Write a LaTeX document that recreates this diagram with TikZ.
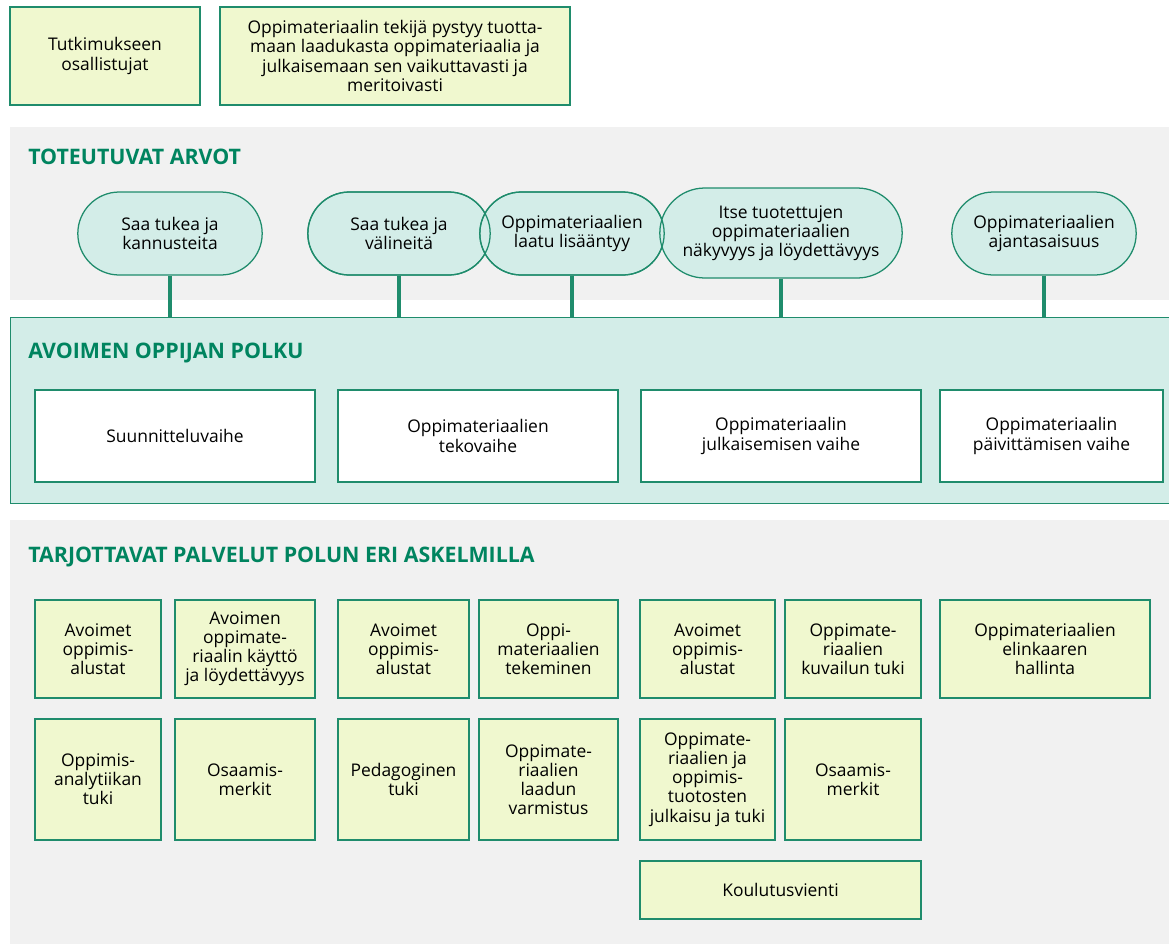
\documentclass[tikz,border=0pt]{standalone}
\usepackage{fontspec}
\setmainfont{Open Sans}
\usetikzlibrary{shapes.misc}

\definecolor{edgegreen}{HTML}{1F8C6C}
\definecolor{titlegreen}{HTML}{00845F}
\definecolor{limefill}{HTML}{F0F8CF}
\definecolor{tealfill}{HTML}{D3EDE8}
\definecolor{panelgray}{HTML}{F1F1F1}

\begin{document}
\begin{tikzpicture}[
  font=\fontsize{12.4}{13.6}\selectfont,
  panel/.style={fill=panelgray, anchor=north west, minimum width=29.1cm,
    inner sep=0pt},
  pathpanel/.style={panel, fill=tealfill, draw=edgegreen, line width=0.9pt},
  header/.style={anchor=west, text=titlegreen, inner sep=0pt,
    font=\fontsize{15.2}{18}\selectfont\bfseries},
  service/.style={draw=edgegreen, line width=0.9pt, fill=limefill,
    align=center, inner sep=2pt},
  phase/.style={service, fill=white, minimum width=7.0cm, minimum height=2.3cm},
  pill/.style={rounded rectangle, draw=edgegreen, line width=0.9pt,
    fill=tealfill, align=center, inner sep=2pt,
    minimum width=4.75cm, minimum height=2.075cm},
  pillline/.style={pill, fill=none},
  stem/.style={draw=edgegreen, line width=2.5pt},
  rowone/.style={service, minimum height=2.45cm},
  rowtwo/.style={service, minimum height=3.025cm}
]
\useasboundingbox (0,0) rectangle (29.225,-23.6);

% Top boxes
\node[service, minimum width=4.75cm, minimum height=2.45cm] (tutk) at (2.625,-1.4)
  {Tutkimukseen\\osallistujat};
\node[service, minimum width=8.75cm, minimum height=2.45cm] (tekija) at (9.875,-1.4)
  {Oppimateriaalin tekijä pystyy tuotta-\\maan laadukasta oppimateriaalia ja\\
   julkaisemaan sen vaikuttavasti ja\\meritoivasti};

% Values
\node[panel, minimum height=4.325cm] (arvot) at (0.25,-3.175) {};
\node[header] (arvothead) at (0.7,-3.925) {TOTEUTUVAT ARVOT};
\node[pill] (kannuste) at (4.25,-5.8375) {Saa tukea ja\\kannusteita};
\node[pill, minimum width=4.7cm] (valine) at (9.975,-5.8375) {Saa tukea ja\\välineitä};
\node[pill] (laatu) at (14.3,-5.8375) {Oppimateriaalien\\laatu lisääntyy};
\node[pill, minimum width=6.2cm, minimum height=2.25cm] (nakyvyys) at (19.525,-5.825)
  {Itse tuotettujen\\oppimateriaalien\\näkyvyys ja löydettävyys};
\node[pill] (ajantasa) at (26.1,-5.8375) {Oppimateriaalien\\ajantasaisuus};
\node[pillline, minimum width=4.7cm] (valineline) at (valine.center) {};
\node[pillline] (laatuline) at (laatu.center) {};

% Path
\node[pathpanel, minimum height=4.65cm] (polku) at (0.25,-7.925) {};
\node[header] (polkuhead) at (0.7,-8.825) {AVOIMEN OPPIJAN POLKU};
\node[phase] (suunnittelu) at (4.375,-10.9) {Suunnitteluvaihe};
\node[phase] (teko) at (11.95,-10.9) {Oppimateriaalien\\tekovaihe};
\node[phase] (julkaisu) at (19.525,-10.9) {Oppimateriaalin\\julkaisemisen vaihe};
\node[phase, minimum width=5.575cm] (paivitys) at (26.2875,-10.9)
  {Oppimateriaalin\\päivittämisen vaihe};

% Stems
\foreach \p in {kannuste,valine,laatu,nakyvyys,ajantasa}
  \draw[stem] (\p.south) -- (\p.south |- polku.north);

% Services
\node[panel, minimum height=10.6cm] (palvelut) at (0.25,-13.0) {};
\node[header] (palveluthead) at (0.7,-13.925)
  {TARJOTTAVAT PALVELUT POLUN ERI ASKELMILLA};

\node[rowone, minimum width=3.15cm] (alusta1) at (2.45,-16.225)
  {Avoimet\\oppimis-\\alustat};
\node[rowone, minimum width=3.5cm] (kaytto) at (6.125,-16.225)
  {Avoimen\\oppimate-\\riaalin käyttö\\ja löydettävyys};
\node[rowone, minimum width=3.275cm] (alusta2) at (10.0875,-16.225)
  {Avoimet\\oppimis-\\alustat};
\node[rowone, minimum width=3.475cm] (tekeminen) at (13.7125,-16.225)
  {Oppi-\\materiaalien\\tekeminen};
\node[rowone, minimum width=3.375cm] (alusta3) at (17.6875,-16.225)
  {Avoimet\\oppimis-\\alustat};
\node[rowone, minimum width=3.4cm] (kuvailu) at (21.325,-16.225)
  {Oppimate-\\riaalien\\kuvailun tuki};
\node[rowone, minimum width=5.25cm] (elinkaari) at (26.125,-16.225)
  {Oppimateriaalien\\elinkaaren\\hallinta};

\node[rowtwo, minimum width=3.15cm] (analytiikka) at (2.45,-19.4875)
  {Oppimis-\\analytiikan\\tuki};
\node[rowtwo, minimum width=3.5cm] (merkit1) at (6.125,-19.4875)
  {Osaamis-\\merkit};
\node[rowtwo, minimum width=3.275cm] (pedagogi) at (10.0875,-19.4875)
  {Pedagoginen\\tuki};
\node[rowtwo, minimum width=3.475cm] (varmistus) at (13.7125,-19.4875)
  {Oppimate-\\riaalien\\laadun\\varmistus};
\node[rowtwo, minimum width=3.375cm] (julkaisutuki) at (17.6875,-19.4875)
  {Oppimate-\\riaalien ja\\oppimis-\\tuotosten\\julkaisu ja tuki};
\node[rowtwo, minimum width=3.4cm] (merkit2) at (21.325,-19.4875)
  {Osaamis-\\merkit};

\node[service, minimum width=7.025cm, minimum height=1.45cm] (vienti) at (19.5125,-22.25)
  {Koulutusvienti};
\end{tikzpicture}
\end{document}
